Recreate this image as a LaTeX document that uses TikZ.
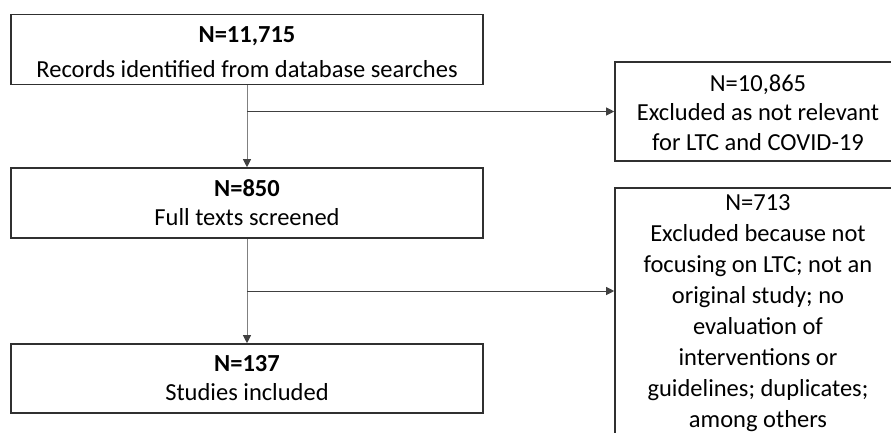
\documentclass[tikz,border=0pt]{standalone}
\usepackage{fontspec}
\setmainfont{Carlito}
\usetikzlibrary{arrows.meta,calc}
\definecolor{boxline}{HTML}{303030}
\definecolor{vline}{HTML}{808080}
\definecolor{hline}{HTML}{404040}

\begin{document}
\begin{tikzpicture}[x=1pt,y=-1pt,
  box/.style={draw=boxline, line width=1.6pt, inner sep=0pt},
  txt/.style={align=center, inner sep=0pt, font=\fontsize{24.5}{29.5}\selectfont},
  down/.style={draw=vline, line width=1pt, -{Triangle[length=8pt,width=8pt,color=hline]}},
  side/.style={draw=hline, line width=1pt, -{Triangle[length=8pt,width=8pt]}}
]
\useasboundingbox (0,0) rectangle (891,432);
\clip (0,0) rectangle (891,432);

% main column
\node[box, minimum width=472pt, minimum height=70pt] (b1) at (247,49.3) {};
\node[box, minimum width=472pt, minimum height=70pt] (b2) at (247,203) {};
\node[box, minimum width=472pt, minimum height=69pt] (b3) at (247,378.5) {};

% exclusion boxes (running off the right and bottom edges)
\node[box, minimum width=286pt, minimum height=99pt] (r1) at (758,111.5) {};
\node[box, minimum width=286pt, minimum height=246pt] (r2) at (758,311) {};

% texts
\node[txt] (t1) at ([yshift=-3pt]b1.center) {\textbf{N=11,715}\\[6pt]Records identified from database searches};
\node[txt] (t2) at (b2) {\textbf{N=850}\\[-0.5pt]Full texts screened};
\node[txt] (t3) at (b3) {\textbf{N=137}\\[-0.5pt]Studies included};
\node[txt] (u1) at ([yshift=-1pt]r1.center) {N=10,865\\Excluded as not relevant\\for LTC and COVID-19};
\node[txt, font=\fontsize{24.5}{30.9}\selectfont] (u2) at ([yshift=-2pt]r2.center) {N=713\\Excluded because not\\focusing on LTC; not an\\original study; no\\evaluation of\\interventions or\\guidelines; duplicates;\\among others};

% connectors
\coordinate (j1) at (b1.south |- r1.west);
\coordinate (j2) at ($(b2.south)!0.5!(b3.north)$);
\draw[down] (b1.south) -- (b2.north);
\draw[down] (b2.south) -- (b3.north);
\draw[side] (j1) -- (r1.west);
\draw[side] (j2) -- (j2 -| r2.west);
\end{tikzpicture}
\end{document}
